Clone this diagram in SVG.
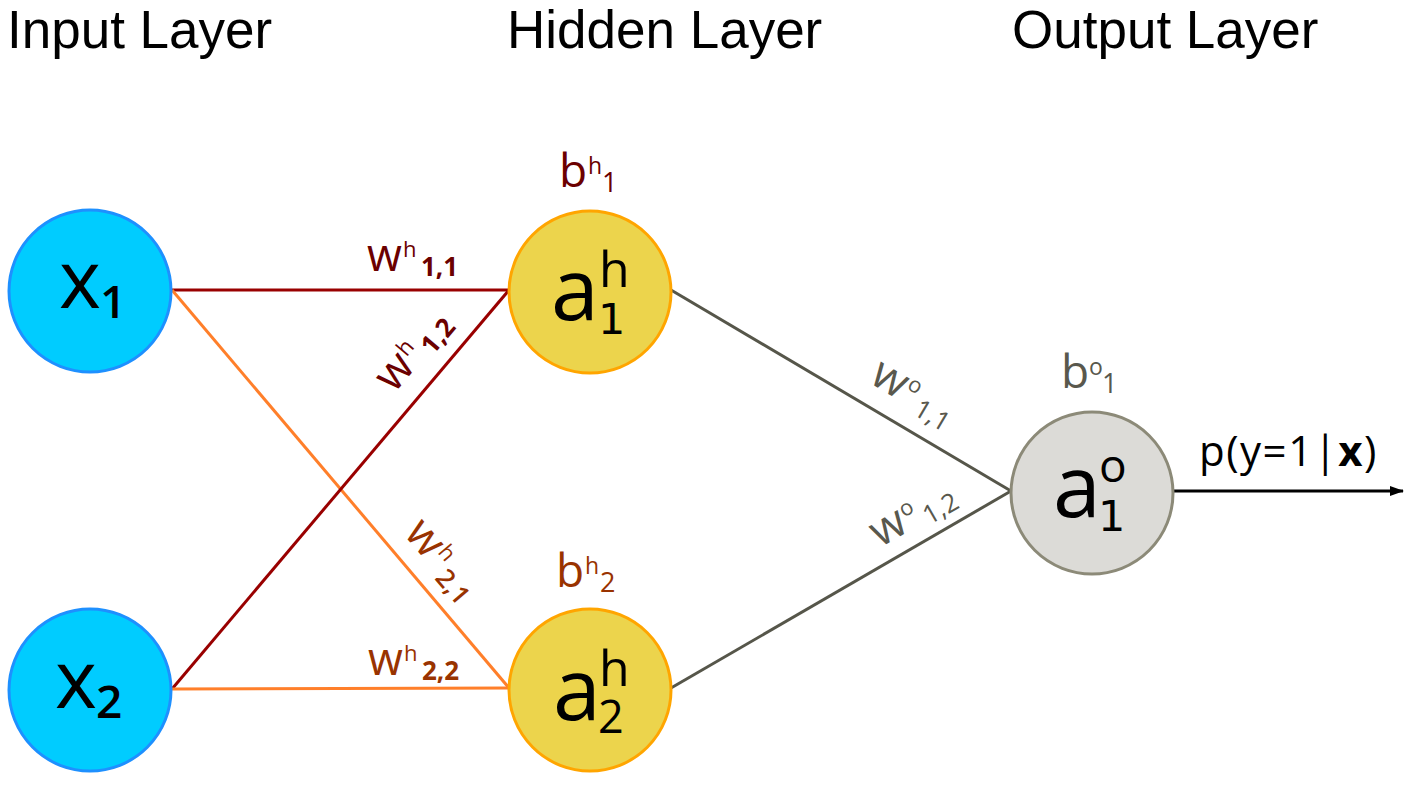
<svg xmlns="http://www.w3.org/2000/svg" width="1416" height="802" viewBox="0 0 1416 802">
<defs>
<style>
.title{font-family:"Liberation Sans",Arial,sans-serif;font-size:53px;fill:#000}
.nt{font-family:"Open Sans","Noto Sans",sans-serif;fill:#000}
.d1{font-family:"DejaVu Sans","Open Sans",sans-serif;fill:#000}
.lb{font-family:"Open Sans","Noto Sans",sans-serif}
.in{fill:#00CCFF;stroke:#1E90FF;stroke-width:3}
.hid{fill:#ECD44C;stroke:#FFA500;stroke-width:3}
.out{fill:#DCDBD7;stroke:#8C8A78;stroke-width:3}
.e1{stroke:#990000;stroke-width:3;fill:none}
.e2{stroke:#FF7F2A;stroke-width:3;fill:none}
.e3{stroke:#56564A;stroke-width:3;fill:none}
.c1{fill:#6B0000}
.c2{fill:#993300}
.c3{fill:#59584D}
.wm{font-size:45px}
.ws{font-size:22px}
.wb{font-size:26px}
</style>
<marker id="arr" markerWidth="14" markerHeight="10" refX="13" refY="5" orient="auto" markerUnits="userSpaceOnUse">
<path d="M0,0 L14,5 L0,10 z" fill="#000"/>
</marker>
</defs>
<rect width="1416" height="802" fill="#fff"/>
<g id="titles">
<text class="title" x="7" y="48">Input Layer</text>
<text class="title" x="507" y="48">Hidden Layer</text>
<text class="title" x="1012" y="48">Output Layer</text>
</g>
<g id="connectors">
<line class="e1" x1="172" y1="290" x2="509" y2="290"/>
<line class="e2" x1="172" y1="290" x2="509" y2="688"/>
<line class="e1" x1="172" y1="689" x2="509" y2="290"/>
<line class="e2" x1="172" y1="689" x2="509" y2="688"/>
<line class="e3" x1="671" y1="290" x2="1011" y2="491"/>
<line class="e3" x1="671" y1="688" x2="1011" y2="491"/>
<line x1="1173" y1="491" x2="1403" y2="491" stroke="#000" stroke-width="3" marker-end="url(#arr)"/>
</g>
<g id="labels">
<g class="lb c1" transform="translate(367,271)">
<text class="wm" x="0" y="0">w</text>
<text class="ws" x="36" y="-14">h</text>
<text class="wb" x="54" y="5" font-weight="bold">1,1</text>
</g>
<g class="lb c1" transform="translate(394,394) rotate(-49.7)">
<text class="wm" x="0" y="0">w</text>
<text class="ws" x="36" y="-14">h</text>
<text class="wb" x="54" y="5" font-weight="bold">1,2</text>
</g>
<g class="lb c2" transform="translate(403,534) rotate(49.7)">
<text class="wm" x="0" y="0">w</text>
<text class="ws" x="36" y="-14">h</text>
<text class="wb" x="54" y="5" font-weight="600">2,1</text>
</g>
<g class="lb c2" transform="translate(368,675)">
<text class="wm" x="0" y="0">w</text>
<text class="ws" x="36" y="-14">h</text>
<text class="wb" x="54" y="5" font-weight="bold">2,2</text>
</g>
<g class="lb c3" transform="translate(868,382) rotate(30.6)">
<text class="wm" x="0" y="0">w</text>
<text class="ws" x="36" y="-14">o</text>
<text class="wb" x="54" y="5">1,1</text>
</g>
<g class="lb c3" transform="translate(880,548) rotate(-30.1)">
<text class="wm" x="0" y="0">w</text>
<text class="ws" x="36" y="-14">o</text>
<text class="wb" x="54" y="5">1,2</text>
</g>
<g class="lb c1">
<text x="559" y="187" font-size="46">b</text>
<text x="588" y="174" font-size="23">h</text>
<text x="602" y="192" font-size="27">1</text>
</g>
<g class="lb c2">
<text x="556" y="587" font-size="46">b</text>
<text x="585" y="574" font-size="23">h</text>
<text x="600" y="592" font-size="27">2</text>
</g>
<g class="lb c3">
<text x="1061" y="388" font-size="46">b</text>
<text x="1089" y="375" font-size="23">o</text>
<text x="1102" y="393" font-size="27">1</text>
</g>
<text class="lb" x="1199" y="466" font-size="42" letter-spacing="1.5" fill="#000">p(y=1|<tspan font-weight="bold">x</tspan>)</text>
</g>
<g id="x1">
<circle class="in" cx="90" cy="291" r="81"/>
<text class="nt" x="59" y="308" font-size="80" font-weight="500">x</text>
<text class="nt" x="100" y="318" font-size="46" font-weight="600">1</text>
</g>
<g id="x2">
<circle class="in" cx="90" cy="690" r="81"/>
<text class="nt" x="55" y="708" font-size="80" font-weight="500">x</text>
<text class="nt" x="96" y="718" font-size="46" font-weight="600">2</text>
</g>
<g id="a1h">
<circle class="hid" cx="590" cy="292" r="81"/>
<text class="nt" x="551" y="320" font-size="86">a</text>
<text class="nt" x="599" y="287" font-size="50">h</text>
<text class="d1" x="598" y="334" font-size="43">1</text>
</g>
<g id="a2h">
<circle class="hid" cx="590" cy="690" r="81"/>
<text class="nt" x="553" y="720" font-size="86">a</text>
<text class="nt" x="599" y="686" font-size="50">h</text>
<text class="nt" x="598" y="733" font-size="45">2</text>
</g>
<g id="a1o">
<circle class="out" cx="1092" cy="493" r="81"/>
<text class="nt" x="1053" y="517" font-size="86">a</text>
<text class="nt" x="1099" y="482" font-size="46">o</text>
<text class="d1" x="1098" y="531" font-size="43">1</text>
</g>
</svg>
